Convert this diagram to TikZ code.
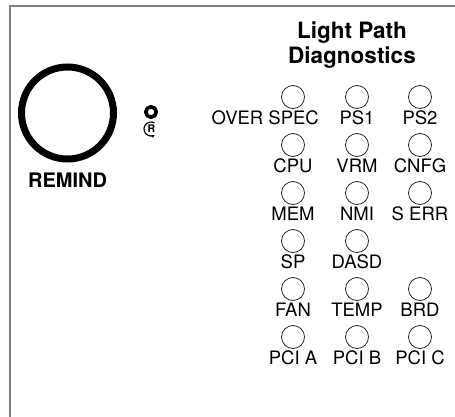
\documentclass[tikz,border=0pt]{standalone}
\usepackage{fontspec}
\setmainfont{TeX Gyre Heros}
\usetikzlibrary{arrows.meta}
\begin{document}
\begin{tikzpicture}[x=1pt,y=-1pt,
  frame/.style={draw=black!50,line width=2pt},
  led/.style={circle,draw=black!85,line width=0.8pt,minimum size=23pt,inner sep=0pt},
  lbl/.style={font=\fontsize{18.5}{18.5}\selectfont,inner sep=0pt},
  boldlbl/.style={font=\fontsize{20}{20}\selectfont\bfseries,inner sep=0pt},
  titlelbl/.style={font=\fontsize{22.5}{25}\selectfont\bfseries,inner sep=0pt,align=center}]
\useasboundingbox (0,0) rectangle (455,417);
\draw[frame] (455,6.5) -- (9.5,6.5) -- (9.5,417);

% remind button
\node[circle,draw=black,line width=7pt,minimum size=92pt,inner sep=0pt] (remindbtn) at (67.5,113) {};
\node[boldlbl] (remindtxt) at (67.5,180) {REMIND};
\node[circle,draw=black,line width=3.6pt,minimum size=10.5pt,inner sep=0pt] (resetled) at (151,112) {};
\node[circle,inner sep=0pt,minimum size=15pt] (resetsym) at (151,129) {};
\draw[line width=1.2pt,-{Stealth[length=3.2pt,width=3.8pt]}] (resetsym.center) ++(-60:7) arc[start angle=-60,end angle=-300,radius=7];
\node[font=\fontsize{10.5}{10.5}\selectfont\bfseries,inner sep=0pt] (resetR) at (151.3,128.8) {R};

% title
\node[titlelbl] (title) at (352,45.5) {Light Path\\Diagnostics};

% LEDs
\foreach \c/\x in {a/293,b/357,c/420}{
  \foreach \r/\y in {1/97,2/145,3/193,5/289,6/337}{
    \node[led] (led\c\r) at (\x,\y) {};
  }
}
\node[led] (leda4) at (293,241) {};
\node[led] (ledb4) at (357,241) {};

% labels
\node[lbl,anchor=east] (lovr) at (319,118) {OVER SPEC};
\node[lbl] (lps1) at (357,118) {PS1};
\node[lbl] (lps2) at (420,118) {PS2};
\node[lbl] (lcpu) at (293,166) {CPU};
\node[lbl] (lvrm) at (357,166) {VRM};
\node[lbl] (lcnfg) at (420,166) {CNFG};
\node[lbl] (lmem) at (293,214) {MEM};
\node[lbl] (lnmi) at (357,214) {NMI};
\node[lbl] (lserr) at (420,214) {S ERR};
\node[lbl] (lsp) at (293,262) {SP};
\node[lbl] (ldasd) at (357,262) {DASD};
\node[lbl] (lfan) at (293,310) {FAN};
\node[lbl] (ltemp) at (357,310) {TEMP};
\node[lbl] (lbrd) at (420,310) {BRD};
\node[lbl] (lpcia) at (293,358) {PCI A};
\node[lbl] (lpcib) at (357,358) {PCI B};
\node[lbl] (lpcic) at (420,358) {PCI C};
\end{tikzpicture}
\end{document}
